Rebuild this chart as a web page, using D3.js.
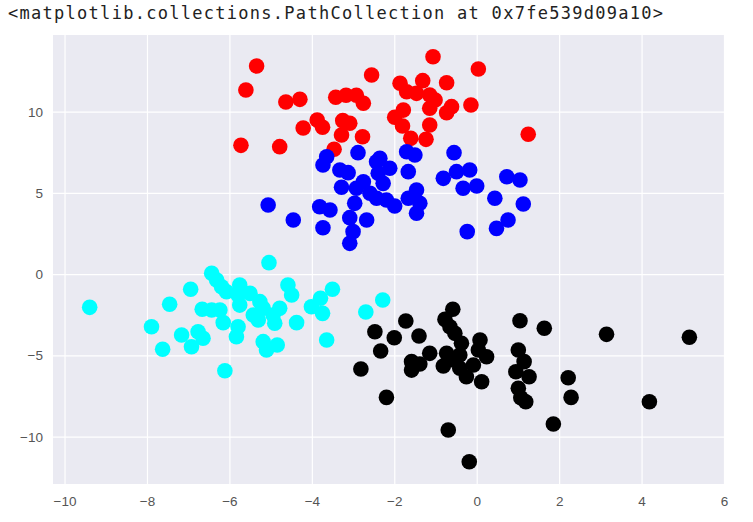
<!DOCTYPE html>
<html>
<head>
<meta charset="utf-8">
<script src="https://cdn.jsdelivr.net/npm/d3@7"></script>
<style>
  body { margin: 0; background: #fff; }
</style>
</head>
<body>
<div id="chart-area"></div>
<script>
// cluster points as [x, y]
var redPts = [
  [-5.34,12.81],[-5.60,11.34],[-4.63,10.60],[-4.29,10.76],[-5.72,7.93],[-4.78,7.85],
  [-4.21,9.00],[-3.87,9.49],[-3.74,9.04],[-3.42,10.89],[-3.17,11.01],[-2.92,11.01],
  [-2.75,10.52],[-2.55,12.26],[-3.25,9.45],[-3.08,9.29],[-3.28,8.57],[-2.77,8.46],
  [-3.46,7.69],[-1.86,11.75],[-1.70,11.23],[-1.46,11.13],[-1.31,11.91],[-1.06,13.38],
  [-1.14,11.03],[-1.01,10.72],[-0.73,11.78],[-1.14,10.21],[-0.61,10.31],[-0.73,9.94],
  [-0.14,10.41],[0.04,12.63],[-1.99,9.66],[-1.78,10.10],[-1.80,9.12],[-1.14,9.18],
  [-1.60,8.36],[-1.23,8.30],[1.25,8.61]
];
var bluePts = [
  [-2.88,7.48],[-3.64,7.23],[-3.73,6.72],[-3.32,6.41],[-3.12,6.25],[-3.28,5.35],
  [-2.92,5.29],[-2.75,5.69],[-2.43,6.92],[-2.39,6.21],[-2.11,6.52],[-2.27,5.59],
  [-2.59,4.98],[-2.43,4.67],[-2.19,4.57],[-1.99,4.20],[-5.06,4.26],[-4.45,3.34],
  [-3.81,4.15],[-3.56,3.95],[-3.73,2.86],[-2.96,4.36],[-3.08,3.48],[-2.67,3.34],
  [-3.00,2.62],[-3.08,1.90],[-1.70,7.54],[-1.50,7.34],[-1.66,6.31],[-1.46,5.18],
  [-1.66,4.67],[-1.38,4.36],[-1.46,3.75],[-0.55,7.48],[-0.81,5.90],[-0.49,6.31],
  [-0.17,6.41],[-0.33,5.29],[0.00,5.43],[0.44,4.67],[0.73,6.00],[1.05,5.80],
  [1.13,4.32],[0.76,3.34],[0.48,2.82],[-0.23,2.62],[-2.35,7.13]
];
var cyanPts = [
  [-9.39,-2.04],[-7.89,-3.23],[-7.62,-4.62],[-7.45,-1.85],[-7.16,-3.74],[-6.94,-0.93],
  [-6.76,-3.54],[-6.92,-4.46],[-6.64,-3.94],[-6.66,-2.16],[-6.43,-2.20],[-6.23,-2.20],
  [-6.15,-2.98],[-6.43,0.06],[-6.31,-0.36],[-6.19,-0.77],[-6.07,-1.08],[-5.75,-0.66],
  [-5.79,-1.28],[-5.75,-1.90],[-5.50,-1.18],[-5.26,-1.69],[-5.18,-2.10],[-5.42,-2.51],
  [-5.30,-2.82],[-5.79,-3.23],[-5.83,-3.85],[-5.04,0.71],[-4.94,-2.51],[-4.90,-3.02],
  [-4.78,-2.10],[-4.58,-0.66],[-4.49,-1.28],[-4.37,-2.98],[-5.18,-4.15],[-5.10,-4.66],
  [-4.84,-4.36],[-4.01,-2.00],[-3.79,-1.48],[-3.74,-2.41],[-3.50,-0.93],[-3.64,-4.05],
  [-6.11,-5.94],[-2.28,-1.59],[-2.69,-2.33]
];
var blackPts = [
  [-1.72,-2.88],[-2.47,-3.54],[-2.00,-3.91],[-1.40,-3.80],[-2.33,-4.73],[-2.81,-5.83],
  [-1.58,-5.38],[-1.58,-5.90],[-1.38,-5.53],[-1.14,-4.87],[-2.19,-7.58],[-0.58,-2.16],
  [-0.77,-2.78],[-0.65,-3.23],[-0.53,-3.64],[-0.37,-4.25],[-0.73,-4.87],[-0.81,-5.65],
  [-0.57,-5.28],[-0.41,-4.97],[-0.41,-5.79],[-0.25,-6.31],[0.08,-4.05],[0.04,-4.66],
  [0.24,-5.08],[-0.08,-5.59],[0.12,-6.62],[-0.69,-9.59],[-0.18,-11.54],[1.05,-2.86],
  [1.01,-4.66],[1.15,-5.38],[0.95,-6.00],[1.27,-6.31],[1.01,-7.02],[1.19,-7.85],
  [1.07,-7.60],[1.64,-3.33],[3.15,-3.70],[5.16,-3.88],[2.22,-6.37],[2.29,-7.58],
  [4.19,-7.85],[1.86,-9.22]
];
var clusters = [
  {name: "red", color: "#ff0000", pts: redPts},
  {name: "blue", color: "#0000ff", pts: bluePts},
  {name: "cyan", color: "#00ffff", pts: cyanPts},
  {name: "black", color: "#000000", pts: blackPts}
];
var xTicks = [-10, -8, -6, -4, -2, 0, 2, 4, 6];
var yTicks = [-10, -5, 0, 5, 10];
var outText = "<matplotlib.collections.PathCollection at 0x7fe539d09a10>";

var margin = {left:53, right:29, top:35, bottom:38};
var width = 753 - margin.left - margin.right;
var height = 522 - margin.top - margin.bottom;

var svg = d3.select("#chart-area").append("svg")
    .attr("width", width + margin.left + margin.right)
    .attr("height", height + margin.top + margin.bottom)
    .style("display", "block");

// notebook output line above the figure
svg.append("text")
    .attr("x", 8)
    .attr("y", 18.5)
    .attr("fill", "#222")
    .style("font-family", "'DejaVu Sans Mono', monospace")
    .style("font-size", "17px")
    .style("letter-spacing", "1.28px")
    .text(outText);

var g = svg.append("g")
    .attr("transform", "translate(" + margin.left + "," + margin.top + ")");

var x = d3.scaleLinear().domain([-10.28, 6.0]).range([0, width]);
var y = d3.scaleLinear().domain([-12.91, 14.72]).range([height, 0]);

g.append("rect")
    .attr("width", width)
    .attr("height", height)
    .attr("fill", "#eaeaf2");

var xAxis = g.append("g")
    .attr("transform", "translate(0," + height + ")")
    .call(d3.axisBottom(x).tickValues(xTicks).tickSize(-height).tickPadding(12));

var yAxis = g.append("g")
    .call(d3.axisLeft(y).tickValues(yTicks).tickSize(-width).tickPadding(10));

[xAxis, yAxis].forEach(function(a) {
    a.select(".domain").remove();
    a.selectAll(".tick line").attr("stroke", "#fff").attr("stroke-width", 1.2);
    a.selectAll(".tick text")
        .attr("fill", "#555")
        .style("font-family", "'Liberation Sans', Arial, sans-serif")
        .style("font-size", "13.5px");
});

clusters.forEach(function(c) {
    g.append("g").selectAll("circle")
        .data(c.pts)
        .enter().append("circle")
        .attr("cx", function(d) { return x(d[0]); })
        .attr("cy", function(d) { return y(d[1]); })
        .attr("r", 7.8)
        .attr("fill", c.color);
});
</script>
</body>
</html>
